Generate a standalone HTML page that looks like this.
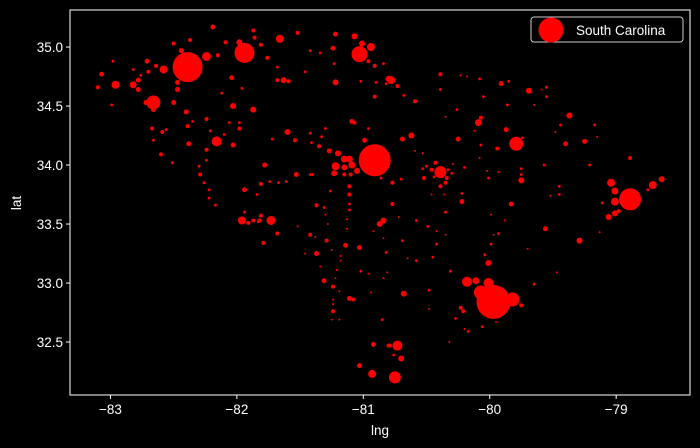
<!DOCTYPE html>
<html><head><meta charset="utf-8"><style>
html,body{margin:0;padding:0;background:#000;}
svg{display:block;font-family:"Liberation Sans","DejaVu Sans",sans-serif;}
</style></head><body>
<svg id="chart" width="700" height="448" viewBox="0 0 700 448" xmlns="http://www.w3.org/2000/svg">
<rect x="0" y="0" width="700" height="448" fill="#000"/>
<g id="points"></g>
<rect x="70" y="10" width="620" height="385" fill="none" stroke="#fff" stroke-width="1"/>
<g id="xticks"></g>
<g id="yticks"></g>
<text x="380" y="435" fill="#fff" font-size="13.5" text-anchor="middle">lng</text>
<text x="21" y="203" fill="#fff" font-size="13.5" text-anchor="middle" transform="rotate(-90 21 203)">lat</text>
<g>
<rect x="531" y="17" width="152" height="25" rx="3" fill="#000" stroke="#ccc" stroke-width="1"/>
<circle cx="551" cy="30" r="12.5" fill="#ff0000"/>
<text x="576" y="35" fill="#fff" font-size="13.5">South Carolina</text>
</g>
</svg>
<script>
const xTicks=[-83,-82,-81,-80,-79];
const xTickLabels=["\u221283","\u221282","\u221281","\u221280","\u221279"];
const yTicks=[32.5,33.0,33.5,34.0,34.5,35.0];
const yTickLabels=["32.5","33.0","33.5","34.0","34.5","35.0"];
const lngs=[-82.39,-80.91,-79.97,-78.89,-81.94,-81.03,-82.66,-79.79,-80.39,-80.07,-79.82,-80.18,-80.01,-80.11,-80.75,-80.93,-80.73,-81.73,-81.96,-82.16,-80.87,-80.84,-79.04,-78.71,-82.24,-79.01,-79.01,-79.01,-78.98,-79.06,-78.64,-78.75,-79.11,-78.89,-79.21,-79.13,-79.29,-79.56,-79.47,-79.65,-79.75,-79.95,-80.06,-80.20,-80.17,-80.23,-80.21,-80.27,-80.32,-80.48,-80.48,-80.68,-80.85,-80.79,-80.76,-80.70,-80.92,-81.03,-80.77,-80.22,-79.83,-80.72,-80.35,-79.99,-79.88,-80.58,-80.49,-80.42,-80.35,-79.97,-79.93,-80.84,-80.69,-80.42,-79.99,-80.82,-80.65,-80.58,-80.45,-80.04,-80.01,-79.70,-80.31,-80.81,-80.84,-80.78,-80.82,-80.84,-80.73,-80.68,-80.59,-80.39,-80.39,-80.23,-80.18,-80.08,-80.05,-79.91,-79.85,-79.69,-79.59,-79.55,-79.55,-79.65,-79.86,-80.26,-80.35,-80.09,-80.07,-79.87,-80.12,-79.37,-79.44,-79.48,-79.17,-79.15,-79.25,-79.40,-79.74,-79.94,-80.07,-80.08,-80.25,-80.62,-80.69,-80.59,-80.53,-80.43,-80.53,-80.50,-80.46,-80.29,-80.20,-80.30,-80.33,-80.34,-80.35,-80.39,-80.44,-80.52,-80.77,-80.70,-80.46,-80.36,-80.22,-80.02,-79.93,-80.01,-79.75,-79.75,-79.75,-79.57,-79.45,-79.45,-79.52,-82.96,-82.82,-82.58,-81.66,-80.94,-81.01,-81.07,-81.22,-81.24,-80.80,-81.63,-82.04,-82.03,-81.87,-81.60,-81.22,-81.15,-81.11,-81.09,-81.05,-81.15,-81.23,-81.20,-81.27,-81.53,-81.78,-81.94,-81.81,-82.29,-82.38,-82.60,-82.40,-82.50,-82.71,-83.07,-83.10,-82.78,-82.70,-82.64,-82.50,-82.44,-82.37,-82.19,-82.15,-82.09,-81.98,-81.87,-81.86,-81.81,-81.76,-81.52,-80.91,-80.96,-81.23,-81.42,-81.34,-81.68,-81.46,-81.59,-81.68,-81.22,-81.02,-80.90,-80.91,-82.12,-81.96,-82.47,-82.47,-82.72,-82.66,-82.78,-82.99,-82.98,-82.82,-82.76,-82.39,-82.24,-82.35,-82.67,-82.59,-82.66,-82.56,-82.21,-82.10,-82.06,-81.98,-81.98,-82.03,-82.24,-82.24,-82.30,-82.51,-82.26,-82.22,-82.22,-82.17,-81.72,-81.54,-81.42,-81.41,-81.35,-81.30,-81.33,-81.09,-81.07,-80.96,-80.99,-81.42,-81.40,-81.67,-81.61,-81.74,-81.84,-81.26,-81.37,-81.31,-81.11,-81.11,-81.11,-81.15,-81.10,-80.86,-82.17,-81.94,-81.91,-81.87,-81.83,-81.82,-81.81,-81.68,-81.79,-81.52,-81.42,-81.38,-81.30,-81.28,-81.29,-81.37,-81.46,-81.25,-81.34,-81.31,-81.24,-81.22,-81.21,-81.19,-81.18,-81.18,-81.14,-81.03,-81.13,-81.13,-81.11,-80.92,-81.02,-80.96,-81.11,-81.08,-81.24,-81.24,-81.24,-81.25,-81.19,-80.94,-80.80];
const lats=[34.83,34.04,32.84,33.71,34.95,34.94,34.53,34.18,33.94,32.92,32.86,33.01,33.00,33.02,32.20,32.23,32.47,33.53,33.53,34.20,33.50,33.53,33.85,33.83,34.92,33.78,33.69,33.59,33.61,33.56,33.88,33.79,33.68,34.06,34.00,33.43,33.36,33.46,33.09,32.99,32.81,32.67,32.63,32.61,32.59,32.79,32.76,32.70,32.50,32.94,32.78,32.91,32.69,32.47,32.39,32.36,32.48,32.30,33.67,33.69,33.67,33.56,33.60,33.58,33.53,33.53,33.48,33.44,33.41,33.41,33.42,33.38,33.36,33.33,33.33,33.26,33.21,33.19,33.22,33.24,33.17,33.29,33.10,33.09,33.04,34.72,34.69,34.86,34.67,34.59,34.54,34.77,34.64,34.76,34.75,34.73,34.58,34.69,34.71,34.63,34.64,34.66,34.58,34.51,34.51,34.47,34.41,34.36,34.40,34.30,34.29,34.42,34.34,34.28,34.34,34.24,34.20,34.18,34.23,34.14,34.17,34.06,34.22,34.25,34.22,34.12,34.10,34.02,33.97,33.99,33.96,34.01,33.98,33.93,33.96,33.89,33.85,33.82,33.90,33.89,33.85,33.88,33.75,33.75,33.76,33.95,33.94,33.89,33.97,33.92,33.87,34.00,33.82,33.75,33.74,34.68,34.68,34.81,35.07,35.00,35.03,35.09,35.11,34.99,34.73,34.72,34.74,34.50,34.47,34.28,33.99,34.05,34.05,34.00,33.95,33.98,33.93,34.10,34.12,33.92,34.00,33.79,33.84,33.92,34.18,34.09,34.45,34.53,34.88,34.77,34.66,34.72,34.79,34.84,35.03,34.97,35.06,35.17,34.93,35.04,35.04,35.14,35.08,35.02,34.91,35.12,34.84,34.88,34.86,34.97,34.95,34.83,34.79,34.71,34.72,34.70,34.71,34.70,34.58,34.61,34.65,34.64,34.70,34.53,34.47,34.64,34.51,34.88,34.81,34.76,34.33,34.39,34.37,34.31,34.28,34.21,34.30,34.29,34.26,34.36,34.36,34.31,34.17,34.13,34.04,33.99,34.02,33.85,33.79,33.72,33.66,34.22,34.21,34.27,34.19,34.16,34.31,34.24,34.37,34.36,34.31,34.21,33.92,33.92,33.85,33.86,33.86,33.75,33.78,33.66,33.64,33.82,33.75,33.67,33.92,33.92,33.89,33.66,33.60,33.51,33.53,33.52,33.53,33.57,33.42,33.34,33.48,33.41,33.39,33.58,33.50,33.36,33.25,33.25,33.28,33.14,33.02,32.97,33.04,33.11,32.93,33.19,33.23,33.32,33.30,33.46,33.54,33.62,33.44,33.10,33.08,32.87,32.86,32.86,32.82,32.76,32.69,32.69,32.92,32.47];
const sizes=[225,256,289,121,100,64,49,49,36,49,49,25,25,12,36,16,25,20,16,25,9,9,16,16,20,12,16,9,4,9,9,2,2,4,2,1,9,6,1,2,4,1,2,1,2,4,4,2,1,2,1,9,2,4,2,9,6,6,4,6,6,1,2,1,1,2,2,1,1,1,2,1,2,2,2,2,1,2,2,2,9,1,2,1,1,16,2,2,4,2,4,4,2,1,1,2,2,6,2,9,1,2,2,1,2,2,1,12,4,6,1,9,2,1,2,1,6,6,2,4,2,1,6,9,6,1,1,4,2,2,4,1,2,2,2,4,4,4,2,4,4,2,1,1,2,1,1,2,2,2,9,2,2,2,1,16,12,16,16,16,9,9,6,6,9,9,6,9,9,9,16,12,12,12,9,9,9,9,6,6,6,6,4,4,6,4,6,6,6,6,4,6,4,4,4,6,4,6,4,4,9,4,4,4,4,4,4,4,2,2,2,2,2,4,4,9,2,2,4,2,2,6,6,6,6,6,2,2,2,2,4,4,2,4,4,2,2,2,2,2,2,4,6,4,2,2,2,2,2,2,2,2,4,2,2,4,2,2,6,4,2,6,2,2,2,2,2,2,2,4,2,4,4,2,4,4,2,1,2,4,4,2,4,4,4,4,1,4,1,1,1,4,6,1,1,1,6,4,1,1,1,1,1,6,6,1,1,2,1,2,1,6,4,1,1,4,1,1,1,4];

const X0=70,X1=690,Y0=10,Y1=395;
const xMin=-83.320,xMax=-78.416,yMin=32.051,yMax=35.314;
function xScale(v){return X0+(v-xMin)/(xMax-xMin)*(X1-X0);}
function yScale(v){return Y1-(v-yMin)/(yMax-yMin)*(Y1-Y0);}
const NS="http://www.w3.org/2000/svg";
const pts=document.getElementById('points');
const order=lngs.map((_,i)=>i).sort((a,b)=>sizes[b]-sizes[a]);
order.forEach(i=>{
  const c=document.createElementNS(NS,'circle');
  c.setAttribute('cx',xScale(lngs[i]).toFixed(1));
  c.setAttribute('cy',yScale(lats[i]).toFixed(1));
  c.setAttribute('r',Math.max(1,Math.sqrt(sizes[i])).toFixed(2));
  c.setAttribute('fill','#ff0000');
  
  
  pts.appendChild(c);
});
const xg=document.getElementById('xticks');
xTicks.forEach((t,i)=>{
  const x=xScale(t);
  const l=document.createElementNS(NS,'line');
  l.setAttribute('x1',x);l.setAttribute('x2',x);l.setAttribute('y1',Y1);l.setAttribute('y2',Y1+4);
  l.setAttribute('stroke','#fff');
  
  
  xg.appendChild(l);
  const tx=document.createElementNS(NS,'text');
  tx.setAttribute('x',x);tx.setAttribute('y',Y1+19);
  tx.setAttribute('fill','#fff');tx.setAttribute('font-size','13.5');tx.setAttribute('text-anchor','middle');
  
  
  tx.textContent=xTickLabels[i];
  xg.appendChild(tx);
});
const yg=document.getElementById('yticks');
yTicks.forEach((t,i)=>{
  const y=yScale(t);
  const l=document.createElementNS(NS,'line');
  l.setAttribute('x1',X0-4);l.setAttribute('x2',X0);l.setAttribute('y1',y);l.setAttribute('y2',y);
  l.setAttribute('stroke','#fff');
  
  
  yg.appendChild(l);
  const tx=document.createElementNS(NS,'text');
  tx.setAttribute('x',X0-7);tx.setAttribute('y',y+5);
  tx.setAttribute('fill','#fff');tx.setAttribute('font-size','13.5');tx.setAttribute('text-anchor','end');
  
  
  tx.textContent=yTickLabels[i];
  yg.appendChild(tx);
});
</script>
</body></html>
